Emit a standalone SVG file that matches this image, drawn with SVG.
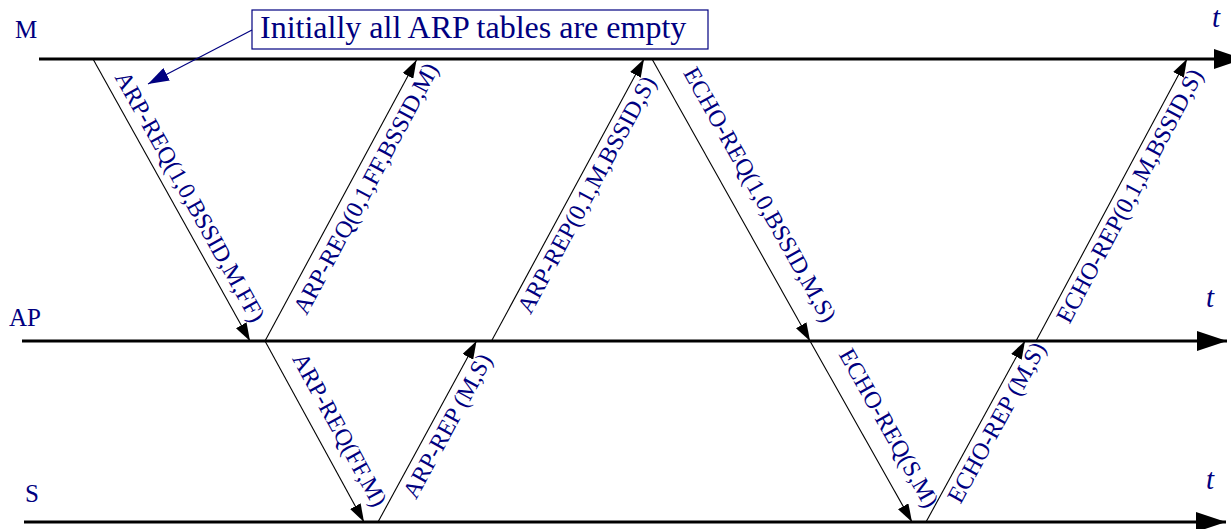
<svg xmlns="http://www.w3.org/2000/svg" width="1231" height="529" viewBox="0 0 1231 529">
<style>
.lbl{font-family:"Liberation Serif","Times New Roman",serif;fill:#000080}
.msg{font-size:24px}
.node{font-size:25px}
.t{font-size:29px;font-style:italic}
.tl{stroke:#000;stroke-width:3;fill:none}
.cn{stroke:#000;stroke-width:1.1;fill:none}
</style>
<defs>
<marker id="big" markerUnits="userSpaceOnUse" markerWidth="30" markerHeight="20" refX="30" refY="10" orient="auto"><path d="M0,0 L30,10 L0,20 z" fill="#000"/></marker>
<marker id="sm" markerUnits="userSpaceOnUse" markerWidth="18" markerHeight="12" refX="18" refY="6" orient="auto"><path d="M0,0 L18,6 L0,12 z" fill="#000"/></marker>
<marker id="nv" markerUnits="userSpaceOnUse" markerWidth="21" markerHeight="14" refX="21" refY="7" orient="auto"><path d="M0,0 L21,7 L0,14 z" fill="#000080"/></marker>
</defs>
<g id="timelines">
<g id="M"><line class="tl" x1="39" y1="59" x2="1244" y2="59" marker-end="url(#big)"/><text class="lbl node" x="15" y="38">M</text><text class="lbl t" x="1212" y="27">t</text></g>
<g id="AP"><line class="tl" x1="22" y1="341" x2="1227" y2="341" marker-end="url(#big)"/><text class="lbl node" x="9" y="326">AP</text><text class="lbl t" x="1206" y="307">t</text></g>
<g id="S"><line class="tl" x1="24" y1="522" x2="1226" y2="522" marker-end="url(#big)"/><text class="lbl node" x="25" y="502">S</text><text class="lbl t" x="1206" y="489">t</text></g>
</g>
<g id="note">
<rect x="252" y="10" width="456" height="39" fill="#fff" stroke="#000080" stroke-width="1.2"/>
<text class="lbl" x="260" y="38" font-size="32">Initially all ARP tables are empty</text>
<line x1="252" y1="30" x2="148" y2="84" stroke="#000080" stroke-width="1.2" marker-end="url(#nv)"/>
</g>
<g id="connectors">
<line class="cn" x1="93" y1="59" x2="250" y2="341" marker-end="url(#sm)"/>
<line class="cn" x1="265" y1="341" x2="416.5" y2="60" marker-end="url(#sm)"/>
<line class="cn" x1="265" y1="341" x2="364" y2="522" marker-end="url(#sm)"/>
<line class="cn" x1="378" y1="522" x2="476.5" y2="341" marker-end="url(#sm)"/>
<line class="cn" x1="491.5" y1="341" x2="644" y2="59" marker-end="url(#sm)"/>
<line class="cn" x1="652" y1="59" x2="810" y2="341" marker-end="url(#sm)"/>
<line class="cn" x1="810" y1="341" x2="912" y2="522" marker-end="url(#sm)"/>
<line class="cn" x1="926" y1="522" x2="1025" y2="341" marker-end="url(#sm)"/>
<line class="cn" x1="1036" y1="341" x2="1187" y2="59" marker-end="url(#sm)"/>
</g>
<g id="labels" text-anchor="middle">
<text class="lbl msg" transform="translate(183.1,200.5) rotate(60.9)">ARP-REQ(1,0,BSSID,M,FF)</text>
<text class="lbl msg" transform="translate(372.8,192.3) rotate(-61.8)">ARP-REQ(0,1,FF,BSSID,M)</text>
<text class="lbl msg" transform="translate(332.8,433.5) rotate(61.3)">ARP-REQ(FF,M)</text>
<text class="lbl msg" transform="translate(454.4,429.7) rotate(-61.4)">ARP-REP (M,S)</text>
<text class="lbl msg" transform="translate(593.6,198.5) rotate(-61.6)">ARP-REP(0,1,M,BSSID,S)</text>
<text class="lbl msg" transform="translate(753.1,198.4) rotate(60.74)">ECHO-REQ(1,0,BSSID,M,S)</text>
<text class="lbl msg" transform="translate(881.9,431.9) rotate(60.6)">ECHO-REQ(S,M)</text>
<text class="lbl msg" transform="translate(1003.5,426.3) rotate(-61.3)">ECHO-REP (M,S)</text>
<text class="lbl msg" transform="translate(1136.6,199.7) rotate(-61.8)">ECHO-REP(0,1,M,BSSID,S)</text>
</g>
</svg>
